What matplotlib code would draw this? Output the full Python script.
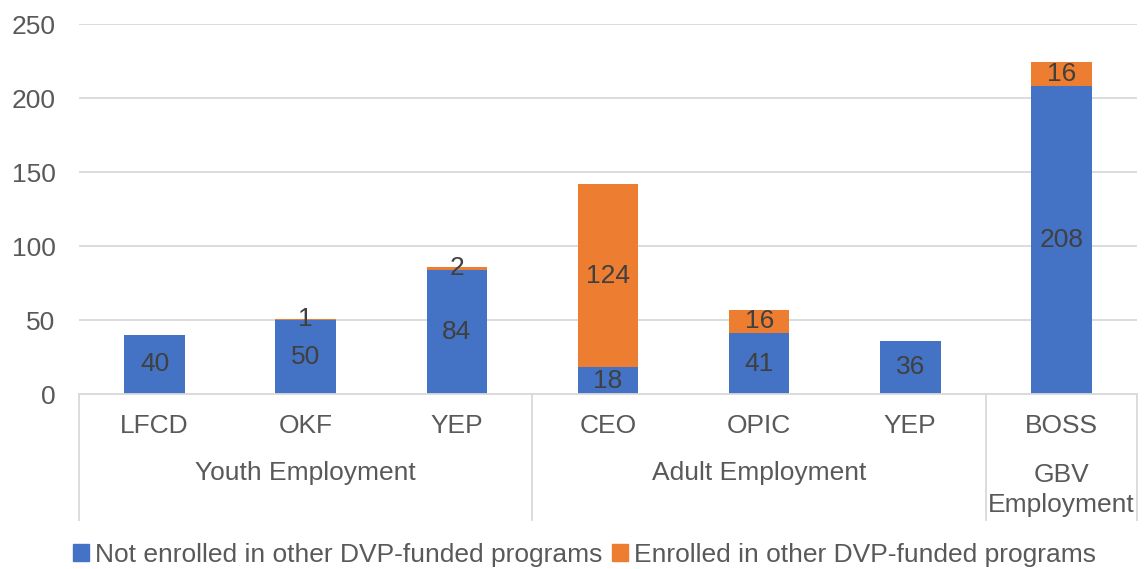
import numpy as np
import matplotlib
matplotlib.use('Agg')
import matplotlib.pyplot as plt
from matplotlib.patches import Patch

programs = ['LFCD', 'OKF', 'YEP', 'CEO', 'OPIC', 'YEP', 'BOSS']
groups = ['Youth Employment', 'Adult Employment', 'GBV\nEmployment']
groupSizes = [3, 3, 1]
notEnrolled = [40, 50, 84, 18, 41, 36, 208]
enrolled = [0, 1, 2, 124, 16, 0, 16]
seriesNames = ['Not enrolled in other DVP-funded programs', 'Enrolled in other DVP-funded programs']

blue = '#4472C4'
orange = '#ED7D31'
textColor = '#595959'
labelColor = '#404040'
gridColor = '#D9D9D9'
fs = 19

plt.rcParams['font.family'] = ['Liberation Sans', 'DejaVu Sans']

fig = plt.figure(figsize=(11.44, 5.69), dpi=100)
ax = fig.add_axes([79 / 1144, 1 - 394 / 569, (1137 - 79) / 1144, 370 / 569])

x = np.arange(len(programs))
notEnrolled = np.array(notEnrolled)
enrolled = np.array(enrolled)
ax.bar(x, notEnrolled, width=0.4, color=blue, zorder=2)
ax.bar(x, enrolled, width=0.4, bottom=notEnrolled, color=orange, zorder=2)

for i in range(len(programs)):
    ax.text(x[i], notEnrolled[i] / 2, str(notEnrolled[i]), ha='center', va='center',
            fontsize=fs, color=labelColor, zorder=3)
    if enrolled[i] > 0:
        ax.text(x[i], notEnrolled[i] + enrolled[i] / 2, str(enrolled[i]), ha='center', va='center',
                fontsize=fs, color=labelColor, zorder=3)

ax.set_xlim(-0.5, len(programs) - 0.5)
ax.set_ylim(0, 250)
ax.set_yticks(np.arange(0, 251, 50))
ax.yaxis.grid(True, color=gridColor, linewidth=1.3, zorder=0)
ax.set_axisbelow(True)
for side in ['top', 'right', 'left']:
    ax.spines[side].set_visible(False)
ax.spines['bottom'].set_color(gridColor)
ax.spines['bottom'].set_linewidth(1.3)
ax.tick_params(axis='y', length=0, labelsize=fs, labelcolor=textColor, pad=17)
ax.set_xticks([])

# multi-level category axis
trans = ax.get_xaxis_transform()
for i in range(len(programs)):
    ax.text(x[i], -0.0865, programs[i], transform=trans, ha='center', va='center',
            fontsize=fs, color=textColor)

start = -0.5
seps = [start]
for g, size in zip(groups, groupSizes):
    center = start + size / 2
    if '\n' in g:
        ax.text(center, -0.2595, g, transform=trans, ha='center', va='center',
                fontsize=fs, color=textColor, linespacing=1.3)
    else:
        ax.text(center, -0.2135, g, transform=trans, ha='center', va='center',
                fontsize=fs, color=textColor)
    start += size
    seps.append(start)

for s in seps:
    ax.plot([s, s], [0, -0.34], transform=trans, color=gridColor, linewidth=1.3, clip_on=False)

handles = [Patch(color=blue), Patch(color=orange)]
fig.legend(handles, seriesNames, loc='center', bbox_to_anchor=(0.511, 1 - 555 / 569), ncol=2,
           frameon=False, fontsize=fs, handlelength=0.6, handleheight=0.6, handletextpad=0.25,
           columnspacing=0.35, labelcolor=textColor)

fig.savefig('out.png', dpi=100)
